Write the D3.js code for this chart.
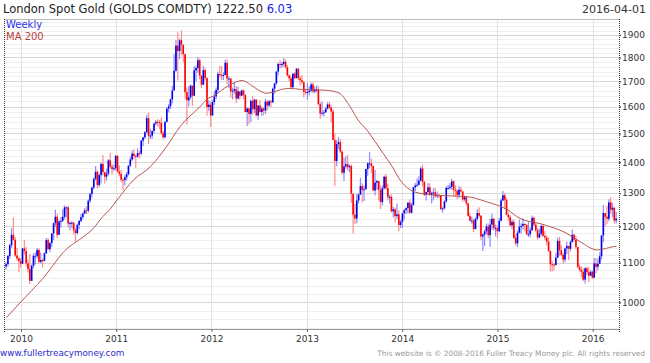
<!DOCTYPE html>
<html>
<head>
<meta charset="utf-8">
<script src="https://cdn.jsdelivr.net/npm/d3@7/dist/d3.min.js"></script>
<style>
  body { margin: 0; background: #fff; }
  svg { display: block; font-family: "DejaVu Sans", Verdana, sans-serif; }
</style>
</head>
<body>
<svg id="chart" width="650" height="363"></svg>
<script>
// weekly closes, one line per year (first week ends 2009-11-06, last 2016-04-01)
var closes = [
  1096,1118,1147,1176,1162,1119,1111,1104,
  1097,1138,1131,1098,1083,1053,1092,1118,1118,1134,1102,1107,1105,1125,1161,1136,1153,1180,1209,1228,1176,1214,1216,1228,1256,1256,1208,1210,1211,1189,1181,1204,1216,1227,1237,1247,1246,1276,1297,1317,1345,1368,1325,1357,1394,1367,1352,1362,1406,1385,1377,1380,1421,
  1369,1361,1342,1341,1350,1360,1388,1409,1429,1421,1419,1431,1429,1474,1486,1504,1556,1491,1492,1509,1536,1542,1541,1539,1501,1486,1542,1592,1601,1628,1663,1744,1852,1828,1876,1856,1814,1656,1624,1636,1682,1642,1745,1755,1788,1724,1686,1746,1713,1598,1607,1566,
  1617,1639,1665,1730,1725,1724,1726,1777,1711,1711,1659,1662,1668,1631,1659,1642,1663,1645,1579,1592,1572,1622,1590,1627,1566,1604,1579,1592,1585,1619,1604,1620,1616,1670,1691,1740,1772,1771,1772,1781,1758,1724,1712,1676,1731,1713,1752,1712,1704,1696,1657,1656,
  1657,1662,1687,1659,1667,1667,1609,1573,1576,1578,1592,1608,1596,1581,1476,1404,1462,1469,1436,1365,1386,1393,1383,1387,1298,1234,1223,1277,1295,1322,1310,1312,1377,1396,1396,1387,1308,1333,1338,1310,1272,1315,1352,1315,1287,1288,1244,1250,1230,1235,1204,1213,
  1238,1248,1254,1270,1240,1263,1318,1324,1326,1339,1379,1335,1294,1303,1318,1294,1300,1302,1290,1293,1292,1250,1253,1274,1316,1316,1320,1337,1310,1307,1294,1310,1305,1280,1287,1268,1230,1216,1217,1192,1222,1239,1231,1171,1177,1186,1200,1175,1205,1222,1195,1195,
  1186,1216,1277,1293,1279,1234,1227,1203,1213,1167,1152,1182,1199,1201,1207,1204,1178,1178,1189,1225,1205,1189,1168,1179,1201,1173,1168,1157,1131,1096,1095,1094,1113,1159,1133,1121,1108,1138,1145,1137,1156,1176,1162,1142,1088,1081,1076,1056,1085,1075,1066,1076,
  1061,1098,1089,1097,1117,1174,1239,1228,1222,1271,1249,1255,1217,1222.5
];
var highs = [
  1101,1120,1150,1195,1226,1170,1140,1115,
  1112,1140,1162,1142,1108,1123,1095,1125,1127,1139,1138,1127,1110,1127,1167,1167,1155,1180,1211,1249,1237,1218,1227,1250,1262,1259,1261,1214,1215,1210,1195,1208,1218,1236,1242,1253,1259,1281,1300,1320,1349,1387,1373,1362,1398,1424,1360,1378,1411,1432,1394,1392,1424,
  1424,1390,1375,1347,1357,1367,1390,1417,1440,1445,1425,1447,1438,1476,1487,1509,1569,1577,1517,1510,1538,1549,1552,1549,1558,1510,1545,1595,1610,1631,1682,1814,1877,1912,1884,1921,1843,1813,1675,1680,1687,1683,1761,1764,1802,1795,1724,1763,1754,1714,1625,1618,
  1626,1660,1675,1740,1764,1763,1737,1790,1792,1720,1712,1674,1698,1682,1677,1660,1667,1667,1649,1597,1595,1627,1641,1628,1625,1605,1625,1600,1597,1629,1624,1625,1627,1675,1693,1741,1778,1788,1781,1796,1792,1768,1728,1723,1734,1738,1754,1755,1722,1726,1699,1670,
  1694,1680,1695,1696,1679,1684,1680,1616,1619,1587,1597,1616,1617,1605,1590,1500,1476,1487,1479,1440,1415,1419,1424,1393,1392,1296,1267,1297,1299,1348,1331,1324,1378,1400,1434,1412,1389,1375,1342,1338,1324,1324,1356,1361,1329,1295,1296,1257,1255,1268,1247,1219,
  1240,1250,1256,1272,1280,1270,1320,1332,1346,1353,1385,1392,1339,1305,1331,1331,1305,1315,1316,1305,1298,1295,1256,1277,1321,1325,1332,1345,1340,1325,1312,1322,1320,1304,1292,1290,1270,1239,1228,1222,1226,1250,1256,1233,1180,1190,1208,1208,1222,1238,1225,1205,
  1202,1224,1283,1307,1299,1285,1240,1233,1220,1219,1177,1188,1219,1209,1224,1209,1206,1214,1197,1232,1228,1213,1196,1193,1205,1205,1187,1174,1168,1133,1105,1099,1126,1168,1170,1147,1126,1141,1157,1140,1160,1191,1179,1173,1143,1095,1090,1085,1088,1090,1088,1080,
  1080,1112,1112,1110,1128,1175,1263,1240,1260,1281,1287,1270,1253,1243
];
var lows = [
  1082,1090,1110,1140,1160,1115,1105,1075,
  1087,1096,1122,1090,1074,1045,1058,1085,1095,1111,1097,1098,1087,1103,1123,1134,1128,1143,1161,1198,1166,1180,1196,1213,1220,1225,1197,1189,1195,1177,1157,1176,1192,1212,1222,1236,1236,1241,1269,1286,1311,1340,1315,1318,1331,1357,1330,1340,1356,1380,1360,1370,1372,
  1365,1353,1334,1309,1324,1340,1356,1385,1404,1410,1380,1415,1413,1423,1455,1480,1502,1462,1480,1480,1500,1528,1525,1515,1495,1478,1483,1540,1577,1590,1612,1663,1739,1702,1792,1812,1780,1628,1532,1600,1628,1602,1640,1700,1735,1708,1672,1688,1704,1565,1583,1523,
  1565,1606,1628,1653,1715,1705,1705,1725,1688,1673,1634,1627,1650,1613,1627,1626,1640,1628,1577,1527,1533,1542,1569,1575,1562,1550,1577,1564,1567,1572,1585,1598,1598,1615,1650,1686,1725,1753,1755,1761,1752,1720,1698,1673,1672,1708,1712,1705,1683,1690,1635,1646,
  1626,1644,1655,1652,1651,1655,1604,1554,1565,1562,1575,1588,1590,1540,1476,1321,1386,1444,1430,1359,1338,1378,1371,1366,1269,1180,1207,1209,1268,1295,1271,1275,1311,1355,1380,1363,1307,1292,1310,1277,1251,1262,1311,1310,1278,1268,1241,1226,1211,1222,1186,1195,
  1195,1221,1236,1238,1238,1237,1262,1306,1319,1324,1337,1321,1291,1277,1296,1290,1268,1277,1285,1284,1284,1250,1241,1250,1270,1310,1310,1310,1293,1288,1281,1284,1302,1273,1275,1262,1229,1214,1207,1183,1192,1217,1226,1161,1131,1145,1177,1166,1142,1190,1188,1172,
  1167,1183,1215,1275,1250,1232,1216,1198,1192,1164,1147,1142,1180,1179,1191,1186,1175,1170,1169,1187,1200,1183,1162,1170,1173,1170,1161,1146,1129,1077,1077,1080,1092,1112,1118,1117,1098,1101,1122,1107,1130,1154,1157,1136,1085,1077,1062,1052,1046,1068,1050,1065,
  1058,1061,1073,1080,1098,1108,1156,1200,1206,1215,1236,1226,1208,1208
];
var firstOpen = 1090;

// 200 day moving average
var maDates = ["2009-11-06","2010-01-01","2010-03-26","2010-06-27","2010-08-14","2010-10-05","2010-11-10","2010-12-08",
  "2011-01-04","2011-03-08","2011-05-12","2011-07-13","2011-09-02","2011-11-17","2011-12-20",
  "2012-01-08","2012-02-20","2012-03-25","2012-04-28","2012-05-30","2012-06-28","2012-07-30","2012-08-20","2012-09-25","2012-10-25","2012-12-10",
  "2013-01-20","2013-03-10","2013-04-10","2013-05-07","2013-06-15","2013-07-16","2013-08-19","2013-09-20","2013-10-20","2013-11-24","2013-12-24",
  "2014-02-01","2014-02-14","2014-05-01","2014-07-05","2014-09-05","2014-11-20",
  "2015-02-06","2015-03-28","2015-06-13","2015-09-24","2015-11-13","2016-01-19","2016-03-21","2016-04-01"];
var maValues = [964,1001,1059,1138,1163,1194,1228,1250,
  1278,1341,1385,1453,1524,1598,1632,
  1640,1672,1692,1703,1686,1665,1652,1655,1667,1671,1667,
  1665,1664,1660,1651,1600,1549,1512,1470,1430,1385,1341,
  1310,1304,1294,1291,1289,1273,
  1250,1223,1208,1180,1157,1134,1143,1144];

var yTicks = [1000,1100,1200,1300,1400,1500,1600,1700,1800,1900];
var yearLabels = ["2010","2011","2012","2013","2014","2015","2016"];

// plot box
var plotLeft = 4, plotRight = 619, plotTop = 19, plotBottom = 329;

var svg = d3.select("#chart");

var x = d3.scaleTime()
  .domain([new Date(2009, 9, 28), new Date(2016, 3, 11)])
  .range([plotLeft, plotRight]);
var y = d3.scaleLog()
  .domain([938, 1974])
  .range([plotBottom, plotTop]);

// grid
var grid = svg.append("g");
var minor = d3.range(940, 1980, 20).filter(function (v) { return v % 100 !== 0; });
grid.selectAll(".minor").data(minor).enter().append("line")
  .attr("x1", plotLeft).attr("x2", plotRight)
  .attr("y1", function (d) { return Math.round(y(d)) + 0.5; })
  .attr("y2", function (d) { return Math.round(y(d)) + 0.5; })
  .attr("stroke", "#efefef");
grid.selectAll(".major").data(yTicks).enter().append("line")
  .attr("x1", plotLeft).attr("x2", plotRight)
  .attr("y1", function (d) { return Math.round(y(d)) + 0.5; })
  .attr("y2", function (d) { return Math.round(y(d)) + 0.5; })
  .attr("stroke", "#d6d6d6");
grid.selectAll(".vert").data(yearLabels).enter().append("line")
  .attr("x1", function (d) { return Math.round(x(new Date(+d, 0, 1))) + 0.5; })
  .attr("x2", function (d) { return Math.round(x(new Date(+d, 0, 1))) + 0.5; })
  .attr("y1", plotTop).attr("y2", plotBottom)
  .attr("stroke", "#e2e2e2");

// frame
svg.append("line").attr("x1", plotLeft).attr("x2", plotRight).attr("y1", plotTop + 0.5).attr("y2", plotTop + 0.5).attr("stroke", "#bbb");
svg.append("line").attr("x1", plotLeft).attr("x2", plotRight).attr("y1", plotBottom + 0.5).attr("y2", plotBottom + 0.5).attr("stroke", "#999");
svg.append("line").attr("x1", plotLeft + 0.5).attr("x2", plotLeft + 0.5).attr("y1", plotTop).attr("y2", plotBottom + 4)
  .attr("stroke", "#333").attr("stroke-dasharray", "1,1");
svg.append("line").attr("x1", plotRight + 0.5).attr("x2", plotRight + 0.5).attr("y1", plotTop).attr("y2", plotBottom + 4)
  .attr("stroke", "#333").attr("stroke-dasharray", "1,1");

// weekly bars
var weeks = d3.timeFriday.range(new Date(2009, 10, 6), new Date(2016, 3, 2)).slice(0, closes.length);
var bars = weeks.map(function (d, i) {
  var o = i === 0 ? firstOpen : closes[i - 1];
  var c = closes[i];
  return {
    date: d3.timeDay.offset(d, -1),
    open: o, close: c,
    high: Math.max(highs[i], o, c),
    low: Math.min(lows[i], o, c)
  };
});

var plot = svg.append("g");
plot.selectAll(".wick").data(bars).enter().append("line")
  .attr("x1", function (d) { return x(d.date); })
  .attr("x2", function (d) { return x(d.date); })
  .attr("y1", function (d) { return y(d.high); })
  .attr("y2", function (d) { return y(d.low); })
  .attr("stroke", function (d) { return d.close >= d.open ? "#8c8cff" : "#ff8c8c"; })
  .attr("stroke-width", 1.2);
plot.selectAll(".body").data(bars).enter().append("rect")
  .attr("x", function (d) { return x(d.date) - 0.8; })
  .attr("width", 1.6)
  .attr("y", function (d) { return y(Math.max(d.open, d.close)); })
  .attr("height", function (d) { return Math.max(1, y(Math.min(d.open, d.close)) - y(Math.max(d.open, d.close))); })
  .attr("fill", function (d) { return d.close >= d.open ? "#0000ee" : "#ff0000"; });

// moving average
var maData = maDates.map(function (d, i) { return { date: d3.timeParse("%Y-%m-%d")(d), value: maValues[i] }; });
svg.append("path")
  .datum(maData)
  .attr("fill", "none")
  .attr("stroke", "#b85550")
  .attr("stroke-width", 1)
  .attr("d", d3.line()
    .curve(d3.curveMonotoneX)
    .x(function (d) { return x(d.date); })
    .y(function (d) { return y(d.value); }));

// axes
var yAxis = svg.append("g").attr("transform", "translate(" + plotRight + ",0)")
  .call(d3.axisRight(y).tickValues(yTicks).tickSize(2).tickFormat(d3.format("d")));
yAxis.select(".domain").remove();
yAxis.selectAll("text").attr("font-size", 9).attr("fill", "#333").attr("x", 3)
  .attr("font-family", "DejaVu Sans, sans-serif");
yAxis.selectAll("line").attr("stroke", "#333");

var xAxis = svg.append("g").attr("transform", "translate(0," + plotBottom + ")")
  .call(d3.axisBottom(x)
    .tickValues(yearLabels.map(function (d) { return new Date(+d, 0, 1); }))
    .tickSize(3)
    .tickFormat(d3.timeFormat("%Y")));
xAxis.select(".domain").remove();
xAxis.selectAll("line").attr("stroke", "#666");
xAxis.selectAll("text").attr("font-size", 9).attr("fill", "#333").attr("y", 7)
  .attr("font-family", "DejaVu Sans, sans-serif");

// texts
var title = svg.append("text").attr("x", 3).attr("y", 13).attr("font-size", 11.5).attr("fill", "#222");
title.append("tspan").text("London Spot Gold (GOLDS COMDTY) 1222.50 ");
title.append("tspan").attr("fill", "#2020ee").text("6.03");
svg.append("text").attr("x", 646).attr("y", 13).attr("text-anchor", "end")
  .attr("font-size", 11).attr("fill", "#333").text("2016-04-01");

svg.append("text").attr("x", 6).attr("y", 28).attr("font-size", 10).attr("fill", "#3030ee").text("Weekly");
svg.append("text").attr("x", 6).attr("y", 40).attr("font-size", 10).attr("fill", "#b84040").text("MA 200");

svg.append("text").attr("x", 0).attr("y", 356).attr("font-size", 8.8).attr("fill", "#2a2acc")
  .text("www.fullertreacymoney.com");
svg.append("text").attr("x", 645).attr("y", 356).attr("text-anchor", "end").attr("font-size", 7.4)
  .attr("fill", "#999").text("This website is \u00a9 2008-2016 Fuller Treacy Money plc. All rights reserved");
</script>
</body>
</html>
